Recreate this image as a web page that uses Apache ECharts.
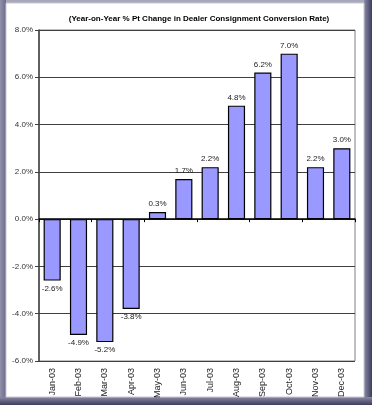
<!DOCTYPE html>
<html>
<head>
<meta charset="utf-8">
<script src="https://cdn.jsdelivr.net/npm/echarts@6/dist/echarts.min.js"></script>
<style>
html,body{margin:0;padding:0;background:#fff;}
#c{width:372px;height:405px;}
</style>
</head>
<body>
<div id="c"></div>
<script>
const titleText = '(Year-on-Year % Pt Change in Dealer Consignment Conversion Rate)';
const categories = ['Jan-03','Feb-03','Mar-03','Apr-03','May-03','Jun-03','Jul-03','Aug-03','Sep-03','Oct-03','Nov-03','Dec-03'];
const values = [-2.6,-4.9,-5.2,-3.8,0.3,1.7,2.2,4.8,6.2,7.0,2.2,3.0];
const yMin = -6, yMax = 8, yStep = 2;

const chart = echarts.init(document.getElementById('c'), null, {renderer:'canvas'});
const font = 'Liberation Sans, Arial, sans-serif';
chart.setOption({
  animation:false,
  backgroundColor:'#ffffff',
  graphic:[
    {type:'rect', z:-10, shape:{x:0,y:0,width:372,height:405}, style:{fill:'#6a6a8c'}},
    {type:'rect', z:-9, shape:{x:0,y:0,width:372,height:3}, style:{fill:'#a8a8bc'}},
    {type:'rect', z:-9, shape:{x:0,y:0,width:6,height:405}, style:{fill:new echarts.graphic.LinearGradient(0,0,1,0,[{offset:0,color:'#9090aa'},{offset:1,color:'#6c6c8c'}])}},
    {type:'rect', z:-9, shape:{x:364,y:0,width:8,height:405}, style:{fill:new echarts.graphic.LinearGradient(0,0,1,0,[{offset:0,color:'#8a8aa6'},{offset:1,color:'#3c3c5c'}])}},
    {type:'rect', z:-9, shape:{x:0,y:397,width:372,height:8}, style:{fill:new echarts.graphic.LinearGradient(0,0,0,1,[{offset:0,color:'#8a8aa6'},{offset:1,color:'#3c3c5c'}])}},
    {type:'rect', z:-8, shape:{x:6,y:3,width:358,height:394}, style:{fill:'#ffffff', stroke:'#c8c8d0', lineWidth:1}}
  ],
  title:{
    text:titleText, left:194, top:10, textAlign:'center',
    textStyle:{fontFamily:font, fontSize:8, fontWeight:'bold', color:'#000'}
  },
  grid:{left:39, right:17, top:30, bottom:44, show:true, borderColor:'#808080', borderWidth:1, backgroundColor:'transparent'},
  xAxis:[{
    type:'category', data:categories, position:'bottom',
    axisLine:{onZero:true, lineStyle:{color:'#000', width:1.5}},
    axisTick:{show:true, inside:false, length:3, lineStyle:{color:'#000'}},
    axisLabel:{show:false}
  },{
    type:'category', data:categories, position:'bottom',
    axisLine:{show:false, onZero:false}, axisTick:{show:false},
    axisLabel:{rotate:90, margin:7, fontFamily:font, fontSize:9, color:'#222'}
  }],
  yAxis:{
    type:'value', min:yMin, max:yMax, interval:yStep,
    axisLine:{show:true, lineStyle:{color:'#404040', width:1.5}},
    axisTick:{show:true, length:4, lineStyle:{color:'#404040'}},
    axisLabel:{margin:6, fontFamily:font, fontSize:8, color:'#333', formatter:v=>v.toFixed(1)+'%'},
    splitLine:{lineStyle:{color:'#404040', width:1}}
  },
  series:[{
    type:'bar', xAxisIndex:0, barCategoryGap:'35%',
    data:values.map(v=>({value:v, label:{position: v<0?'bottom':'top'}})),
    itemStyle:{color:'#9999ff', borderColor:'#000', borderWidth:1.2},
    label:{show:true, distance:4, fontFamily:font, fontSize:8, color:'#222',
      formatter:p=>p.value.toFixed(1)+'%'}
  }]
});
</script>
</body>
</html>
